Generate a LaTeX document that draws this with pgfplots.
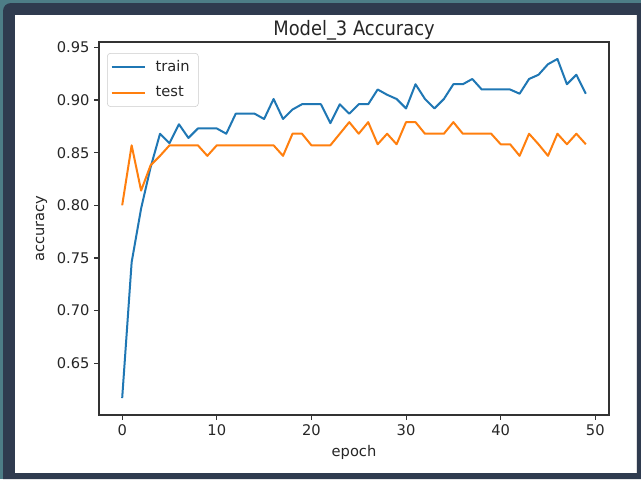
\documentclass[border=0pt]{standalone}
\usepackage{fontspec}
\setmainfont{DejaVu Sans}
\newfontfamily\titlefont{DejaVu Sans}[FakeStretch=0.9]
\usepackage{pgfplots}
\pgfplotsset{compat=1.18}
\definecolor{mplblue}{HTML}{1F77B4}
\definecolor{mplorange}{HTML}{FF7F0E}
\definecolor{framedark}{HTML}{2F3B4F}
\definecolor{frameteal}{HTML}{4D7D87}
\definecolor{txt}{HTML}{262626}

\pgfplotstableread{
epoch acc
0 0.617
1 0.746
2 0.797
3 0.836
4 0.868
5 0.859
6 0.877
7 0.864
8 0.873
9 0.873
10 0.873
11 0.868
12 0.887
13 0.887
14 0.887
15 0.882
16 0.901
17 0.882
18 0.891
19 0.896
20 0.896
21 0.896
22 0.878
23 0.896
24 0.887
25 0.896
26 0.896
27 0.910
28 0.905
29 0.901
30 0.892
31 0.915
32 0.901
33 0.892
34 0.901
35 0.915
36 0.915
37 0.920
38 0.910
39 0.910
40 0.910
41 0.910
42 0.906
43 0.920
44 0.924
45 0.934
46 0.939
47 0.915
48 0.924
49 0.906
}\traindata

\pgfplotstableread{
epoch acc
0 0.800
1 0.857
2 0.814
3 0.838
4 0.847
5 0.857
6 0.857
7 0.857
8 0.857
9 0.847
10 0.857
11 0.857
12 0.857
13 0.857
14 0.857
15 0.857
16 0.857
17 0.847
18 0.868
19 0.868
20 0.857
21 0.857
22 0.857
23 0.868
24 0.879
25 0.868
26 0.879
27 0.858
28 0.868
29 0.858
30 0.879
31 0.879
32 0.868
33 0.868
34 0.868
35 0.879
36 0.868
37 0.868
38 0.868
39 0.868
40 0.858
41 0.858
42 0.847
43 0.868
44 0.858
45 0.847
46 0.868
47 0.858
48 0.868
49 0.858
}\testdata

\begin{document}
\begin{tikzpicture}
\begin{scope}[x=0.75pt,y=-0.75pt]
\fill[frameteal] (0,0) rectangle (641,479);
\fill[framedark] (3,479) [rounded corners=6pt] -- (3,3) [sharp corners] -- (641,3) -- (641,479) -- cycle;
\fill[white] (15,15) rectangle (637,473);
\draw[black!12, line width=0.6pt] (636.5,15) -- (636.5,473);
\end{scope}
\begin{axis}[
  at={(74.25pt,-311.25pt)}, anchor=south west,
  scale only axis,
  width=382.5pt, height=279.75pt,
  xmin=-2.45, xmax=51.45,
  ymin=0.6009, ymax=0.9551,
  xtick={0,10,...,50},
  ytick={0.65,0.70,0.75,0.80,0.85,0.90,0.95},
  yticklabel style={/pgf/number format/.cd, fixed, fixed zerofill, precision=2},
  /pgf/number format/assume math mode=true,
  tick pos=left,
  tick align=outside,
  major tick length=3.6pt,
  tick style={black!80, line width=0.8pt},
  axis line style={black!80, line width=0.8pt},
  ticklabel style={font=\fontsize{11}{13}\selectfont, text=txt},
  every axis title shift=0pt,
  title={Model\_3 Accuracy},
  title style={at={(0.5,1)}, anchor=base, yshift=4.6pt, font=\titlefont\fontsize{14.9}{17}\selectfont, text=txt},
  xlabel={epoch},
  xlabel style={at={(axis description cs:0.5,0)}, anchor=base, yshift=-30.75pt, font=\fontsize{11}{13}\selectfont, text=txt},
  ylabel={accuracy},
  ylabel style={at={(axis description cs:-0.1078,0.5)}, anchor=base, font=\fontsize{11}{13}\selectfont, text=txt},
  legend style={at={(0.0157,0.9705)}, anchor=north west, draw=black!20, rounded corners=2.5pt,
    fill=white, fill opacity=0.8, text opacity=1, font=\fontsize{11}{13}\selectfont, text=txt,
    inner xsep=2.5pt, inner ysep=5pt, row sep=8pt,
    nodes={inner xsep=0pt, inner ysep=0pt, text height=8.5pt, text depth=2.5pt},
    /tikz/every odd column/.append style={column sep=7.5pt}},
  legend cell align=left,
  legend image code/.code={\draw[#1] (0pt,0pt) -- (24.75pt,0pt);},
]
\addplot[mplblue, line width=1.5pt, line join=round] table[x=epoch, y=acc] {\traindata};
\addlegendentry{train\hspace*{4pt}}
\addplot[mplorange, line width=1.5pt, line join=round] table[x=epoch, y=acc] {\testdata};
\addlegendentry{test}
\end{axis}
\end{tikzpicture}
\end{document}
